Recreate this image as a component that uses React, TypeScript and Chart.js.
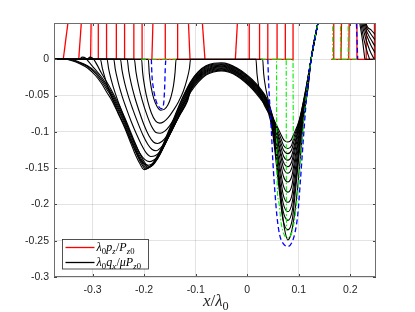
import { useEffect, useRef } from 'react';
import { Chart, registerables } from 'chart.js';
Chart.register(...registerables);

type Pt = [number, number];

// ---------- axes ----------
const xRange: [number, number] = [-0.375, 0.25];
const yRange: [number, number] = [-0.3, 0.05];
const xTickValues = [-0.3, -0.2, -0.1, 0, 0.1, 0.2];
const xTickLabels = ['-0.3', '-0.2', '-0.1', '0', '0.1', '0.2'];
const yTickValues = [-0.3, -0.25, -0.2, -0.15, -0.1, -0.05, 0];
const yTickLabels = ['-0.3', '-0.25', '-0.2', '-0.15', '-0.1', '-0.05', '0'];

// ---------- black: lambda0 qx / mu Pz0 ----------
const qx0: Pt[] = [
  [-0.375, 0], [-0.355, 0], [-0.34, -0.002], [-0.325, -0.006], [-0.31, -0.012], [-0.295, -0.022], [-0.283, -0.033], [-0.272, -0.046], [-0.264, -0.055], [-0.251, -0.074], [-0.238, -0.094], [-0.228, -0.112], [-0.219, -0.128], [-0.209, -0.143], [-0.2, -0.152],
  [-0.19, -0.149], [-0.18, -0.14], [-0.167, -0.123], [-0.155, -0.103], [-0.14, -0.077], [-0.125, -0.052],
  [-0.11, -0.031], [-0.095, -0.017], [-0.08, -0.009], [-0.065, -0.0055], [-0.05, -0.005], [-0.035, -0.007], [-0.02, -0.012], [-0.005, -0.019], [0.01, -0.028], [0.025, -0.04], [0.038, -0.054],
  [0.051, -0.084], [0.065, -0.114], [0.0706, -0.1254], [0.079, -0.13], [0.0859, -0.1254], [0.0905, -0.114], [0.102, -0.084], [0.1147, -0.04], [0.124, 0], [0.14, 0.06],
];
const qx12: Pt[] = [
  [-0.375, 0], [-0.35, 0], [-0.34, -0.001], [-0.325, -0.005], [-0.31, -0.01], [-0.295, -0.019], [-0.283, -0.03], [-0.272, -0.042], [-0.264, -0.051], [-0.251, -0.069], [-0.238, -0.089], [-0.228, -0.107], [-0.219, -0.123], [-0.209, -0.139], [-0.2, -0.1495], [-0.197, -0.151],
  [-0.188, -0.148], [-0.178, -0.139], [-0.166, -0.123], [-0.154, -0.103], [-0.139, -0.077], [-0.124, -0.052],
  [-0.11, -0.032], [-0.095, -0.018], [-0.08, -0.01], [-0.065, -0.0067], [-0.05, -0.0061], [-0.035, -0.0081], [-0.02, -0.0131], [-0.005, -0.0202], [0.01, -0.0293], [0.025, -0.0414], [0.038, -0.0554],
  [0.051, -0.084], [0.065, -0.12], [0.0706, -0.1335], [0.079, -0.139], [0.086, -0.1335], [0.091, -0.12], [0.1025, -0.084], [0.115, -0.04], [0.124, 0], [0.14, 0.06],
];
const qx1: Pt[] = [
  [-0.375, 0], [-0.345, 0], [-0.325, -0.004], [-0.31, -0.009], [-0.295, -0.017], [-0.283, -0.027], [-0.272, -0.039], [-0.264, -0.048], [-0.251, -0.066], [-0.238, -0.086], [-0.228, -0.104], [-0.219, -0.12], [-0.209, -0.136], [-0.2, -0.147], [-0.194, -0.15],
  [-0.186, -0.147], [-0.176, -0.138], [-0.165, -0.123], [-0.153, -0.104], [-0.138, -0.078], [-0.123, -0.053],
  [-0.11, -0.0335], [-0.095, -0.0195], [-0.08, -0.0113], [-0.065, -0.0079], [-0.05, -0.0072], [-0.035, -0.0092], [-0.02, -0.0142], [-0.005, -0.0214], [0.01, -0.0306], [0.025, -0.0428], [0.038, -0.0568],
  [0.05, -0.084], [0.0645, -0.126], [0.0703, -0.1416], [0.079, -0.148], [0.0862, -0.1416], [0.091, -0.126], [0.103, -0.084], [0.1153, -0.04], [0.124, 0], [0.14, 0.06],
];
const qx2: Pt[] = [
  [-0.375, 0], [-0.326, 0], [-0.32, 0.003], [-0.314, 0.002], [-0.307, -0.004], [-0.295, -0.014], [-0.283, -0.024], [-0.272, -0.036], [-0.264, -0.045], [-0.251, -0.063], [-0.238, -0.083], [-0.228, -0.1], [-0.219, -0.117], [-0.209, -0.133], [-0.2, -0.144], [-0.192, -0.149],
  [-0.184, -0.146], [-0.175, -0.137], [-0.164, -0.122], [-0.152, -0.103], [-0.137, -0.078], [-0.122, -0.054],
  [-0.11, -0.035], [-0.095, -0.021], [-0.08, -0.0126], [-0.065, -0.0091], [-0.05, -0.0083], [-0.035, -0.0103], [-0.02, -0.0153], [-0.005, -0.0226], [0.01, -0.0319], [0.025, -0.0442], [0.038, -0.0582],
  [0.05, -0.084], [0.0645, -0.131], [0.0703, -0.1497], [0.079, -0.157], [0.0865, -0.1497], [0.0915, -0.131], [0.104, -0.084], [0.1157, -0.04], [0.124, 0], [0.14, 0.06],
];
const qx3: Pt[] = [
  [-0.375, 0], [-0.311, 0], [-0.305, 0.003], [-0.299, 0.001], [-0.292, -0.007], [-0.283, -0.019], [-0.272, -0.032], [-0.264, -0.042], [-0.251, -0.06], [-0.238, -0.08], [-0.228, -0.097], [-0.219, -0.113], [-0.209, -0.129], [-0.2, -0.141], [-0.19, -0.148],
  [-0.182, -0.145], [-0.174, -0.137], [-0.163, -0.122], [-0.151, -0.103], [-0.136, -0.078], [-0.121, -0.055],
  [-0.11, -0.0365], [-0.095, -0.0225], [-0.08, -0.0139], [-0.065, -0.0103], [-0.05, -0.0094], [-0.035, -0.0114], [-0.02, -0.0164], [-0.005, -0.0238], [0.01, -0.0332], [0.025, -0.0456], [0.038, -0.0596],
  [0.049, -0.084], [0.064, -0.139], [0.07, -0.1605], [0.079, -0.169], [0.0868, -0.1605], [0.092, -0.139], [0.105, -0.084], [0.116, -0.04], [0.124, 0], [0.14, 0.06],
];
const qx4: Pt[] = [
  [-0.375, 0], [-0.285, 0], [-0.281, -0.013], [-0.275, -0.028], [-0.267, -0.045], [-0.258, -0.061], [-0.248, -0.077], [-0.238, -0.092], [-0.228, -0.109], [-0.218, -0.125], [-0.208, -0.138], [-0.2, -0.144], [-0.192, -0.146],
  [-0.184, -0.144], [-0.174, -0.137], [-0.162, -0.121], [-0.15, -0.103], [-0.135, -0.079], [-0.12, -0.056],
  [-0.11, -0.038], [-0.095, -0.024], [-0.08, -0.0152], [-0.065, -0.0115], [-0.05, -0.0105], [-0.035, -0.0125], [-0.02, -0.0175], [-0.005, -0.025], [0.01, -0.0345], [0.025, -0.047], [0.038, -0.061],
  [0.048, -0.084], [0.0635, -0.148], [0.0697, -0.173], [0.079, -0.183], [0.087, -0.173], [0.092, -0.148], [0.1055, -0.084], [0.1163, -0.04], [0.124, 0], [0.14, 0.06],
];
const qx5: Pt[] = [
  [-0.375, 0], [-0.272, 0], [-0.269, -0.013], [-0.264, -0.028], [-0.257, -0.045], [-0.248, -0.063], [-0.238, -0.082], [-0.228, -0.1], [-0.218, -0.116], [-0.208, -0.13], [-0.199, -0.138], [-0.19, -0.141],
  [-0.182, -0.139], [-0.172, -0.133], [-0.161, -0.119], [-0.149, -0.102], [-0.134, -0.079], [-0.119, -0.057],
  [-0.11, -0.0395], [-0.095, -0.0255], [-0.08, -0.0165], [-0.065, -0.0127], [-0.05, -0.0116], [-0.035, -0.0136], [-0.02, -0.0186], [-0.005, -0.0262], [0.01, -0.0358], [0.025, -0.0484], [0.038, -0.0624],
  [0.048, -0.084], [0.0635, -0.157], [0.0697, -0.186], [0.079, -0.197], [0.0871, -0.186], [0.0925, -0.157], [0.106, -0.084], [0.1167, -0.04], [0.124, 0], [0.14, 0.06],
];
const qx6: Pt[] = [
  [-0.375, 0], [-0.259, 0], [-0.256, -0.014], [-0.251, -0.03], [-0.244, -0.048], [-0.235, -0.067], [-0.225, -0.086], [-0.215, -0.103], [-0.205, -0.118], [-0.196, -0.129], [-0.187, -0.134],
  [-0.179, -0.133], [-0.17, -0.128], [-0.16, -0.117], [-0.148, -0.101], [-0.133, -0.079], [-0.118, -0.058],
  [-0.11, -0.041], [-0.095, -0.027], [-0.08, -0.0178], [-0.065, -0.0139], [-0.05, -0.0127], [-0.035, -0.0147], [-0.02, -0.0197], [-0.005, -0.0274], [0.01, -0.0371], [0.025, -0.0498], [0.038, -0.0638],
  [0.047, -0.084], [0.063, -0.166], [0.0694, -0.197], [0.079, -0.21], [0.0874, -0.197], [0.093, -0.166], [0.107, -0.084], [0.117, -0.04], [0.124, 0], [0.14, 0.06],
];
const qx7: Pt[] = [
  [-0.375, 0], [-0.246, 0], [-0.243, -0.015], [-0.238, -0.032], [-0.231, -0.05], [-0.222, -0.069], [-0.212, -0.088], [-0.202, -0.105], [-0.193, -0.117], [-0.185, -0.124], [-0.177, -0.126],
  [-0.168, -0.122], [-0.158, -0.113], [-0.147, -0.099], [-0.132, -0.078], [-0.117, -0.058],
  [-0.11, -0.0425], [-0.095, -0.0285], [-0.08, -0.0191], [-0.065, -0.0151], [-0.05, -0.0138], [-0.035, -0.0158], [-0.02, -0.0208], [-0.005, -0.0286], [0.01, -0.0384], [0.025, -0.0512], [0.038, -0.0652],
  [0.0465, -0.084], [0.0628, -0.174], [0.0693, -0.208], [0.079, -0.222], [0.0876, -0.208], [0.0933, -0.174], [0.1075, -0.084], [0.1173, -0.04], [0.124, 0], [0.14, 0.06],
];
const qx8: Pt[] = [
  [-0.375, 0], [-0.233, 0], [-0.23, -0.016], [-0.225, -0.034], [-0.218, -0.053], [-0.209, -0.073], [-0.2, -0.091], [-0.191, -0.105], [-0.182, -0.114], [-0.174, -0.116],
  [-0.165, -0.113], [-0.156, -0.106], [-0.145, -0.095], [-0.131, -0.077], [-0.116, -0.058],
  [-0.11, -0.044], [-0.095, -0.03], [-0.08, -0.0204], [-0.065, -0.0163], [-0.05, -0.0149], [-0.035, -0.0169], [-0.02, -0.0219], [-0.005, -0.0298], [0.01, -0.0397], [0.025, -0.0526], [0.038, -0.0666],
  [0.046, -0.084], [0.0625, -0.182], [0.0691, -0.22], [0.079, -0.235], [0.0877, -0.22], [0.0935, -0.182], [0.108, -0.084], [0.1177, -0.04], [0.124, 0], [0.14, 0.06],
];
const qx9: Pt[] = [
  [-0.375, 0], [-0.219, 0], [-0.216, -0.017], [-0.211, -0.036], [-0.204, -0.056], [-0.195, -0.076], [-0.186, -0.092], [-0.177, -0.101], [-0.169, -0.102],
  [-0.16, -0.099], [-0.151, -0.092], [-0.14, -0.08], [-0.128, -0.066], [-0.115, -0.052],
  [-0.11, -0.0455], [-0.095, -0.0315], [-0.08, -0.0217], [-0.065, -0.0175], [-0.05, -0.016], [-0.035, -0.018], [-0.02, -0.023], [-0.005, -0.031], [0.01, -0.041], [0.025, -0.054], [0.038, -0.068],
  [0.045, -0.084], [0.05, -0.102], [0.056, -0.13], [0.062, -0.168], [0.067, -0.204], [0.072, -0.232], [0.079, -0.249], [0.086, -0.238], [0.092, -0.213], [0.098, -0.176], [0.104, -0.128], [0.109, -0.084], [0.118, -0.04], [0.124, 0], [0.14, 0.06],
];
const qx10: Pt[] = [
  [-0.375, 0], [-0.205, 0], [-0.203, -0.018], [-0.199, -0.038], [-0.193, -0.058], [-0.186, -0.074], [-0.178, -0.085], [-0.17, -0.088], [-0.162, -0.086], [-0.153, -0.08], [-0.143, -0.07], [-0.133, -0.058], [-0.124, -0.044], [-0.117, -0.028], [-0.112, -0.012], [-0.11, 0],
  [0.03, 0], [0.032, -0.02], [0.036, -0.04], [0.043, -0.062], [0.052, -0.084], [0.0655, -0.109], [0.0709, -0.1191], [0.079, -0.123], [0.0858, -0.1191], [0.09, -0.109], [0.1015, -0.084], [0.1143, -0.04], [0.124, 0], [0.14, 0.06],
];
const qx11: Pt[] = [
  [-0.375, 0], [-0.192, 0], [-0.19, -0.02], [-0.186, -0.04], [-0.181, -0.055], [-0.175, -0.065], [-0.168, -0.07], [-0.161, -0.069], [-0.154, -0.063], [-0.148, -0.052], [-0.143, -0.036], [-0.14, -0.018], [-0.138, 0],
  [0.017, 0], [0.019, -0.02], [0.023, -0.04], [0.03, -0.058], [0.04, -0.072], [0.052, -0.084], [0.0655, -0.1035], [0.0709, -0.111], [0.079, -0.114], [0.0856, -0.111], [0.09, -0.1035], [0.101, -0.084], [0.114, -0.04], [0.124, 0], [0.14, 0.06],
];
const qxTail0: Pt[] = [[0.2175, 0.055], [0.2185, 0.05], [0.224, 0.025], [0.227, 0.008], [0.2285, 0], [0.25, 0]];
const qxTail1: Pt[] = [[0.2195, 0.055], [0.2205, 0.05], [0.227, 0.026], [0.233, 0.01], [0.2375, 0]];
const qxTail2: Pt[] = [[0.2215, 0.055], [0.2225, 0.05], [0.23, 0.029], [0.238, 0.012], [0.2465, 0]];
const qxTail3: Pt[] = [[0.2235, 0.055], [0.2245, 0.05], [0.233, 0.031], [0.241, 0.018], [0.25, 0.007]];
const qxTail4: Pt[] = [[0.2255, 0.055], [0.2265, 0.05], [0.235, 0.034], [0.243, 0.024], [0.25, 0.016]];
const qxTail5: Pt[] = [[0.2275, 0.055], [0.2285, 0.05], [0.238, 0.037], [0.25, 0.025]];
const qxTail6: Pt[] = [[0.2295, 0.055], [0.2305, 0.05], [0.241, 0.04], [0.25, 0.033]];
const qxCurves = [qx0, qx12, qx1, qx2, qx3, qx4, qx5, qx6, qx7, qx8, qx9, qx10, qx11, qxTail0, qxTail1, qxTail2, qxTail3, qxTail4, qxTail5, qxTail6];

// ---------- red: lambda0 pz / Pz0 (steep contact edges, baseline) ----------
const pzEdgeBottomX = [-0.357, -0.327, -0.304, -0.289, -0.273, -0.254, -0.238, -0.22, -0.204, -0.185, -0.159, -0.135, -0.111, -0.082, -0.023, 0.004, 0.024, 0.04, 0.058, 0.074, 0.089, 0.167, 0.182, 0.197, 0.212, 0.231, 0.247];
const pzEdgeTopX = [-0.348, -0.322, -0.303, -0.289, -0.273, -0.254, -0.238, -0.22, -0.204, -0.183, -0.159, -0.135, -0.114, -0.087, -0.019, 0.004, 0.024, 0.04, 0.058, 0.074, 0.089, 0.168, 0.183, 0.198, 0.213, 0.231, 0.247];
const pzBaseline1: Pt[] = [[-0.375, 0], [0.09, 0]];
const pzBaseline2: Pt[] = [[0.163, 0], [0.25, 0]];

// ---------- blue dashed ----------
const blue1: Pt[] = [[-0.186, 0], [-0.185, -0.02], [-0.182, -0.04], [-0.177, -0.057], [-0.171, -0.066], [-0.166, -0.068], [-0.162, -0.06], [-0.16, -0.035], [-0.159, -0.012], [-0.158, 0]];
const blue2: Pt[] = [[0.04, 0], [0.0415, -0.03], [0.044, -0.065], [0.047, -0.1], [0.05, -0.143], [0.054, -0.185], [0.058, -0.218], [0.063, -0.242], [0.07, -0.254], [0.079, -0.258], [0.087, -0.252], [0.093, -0.238], [0.098, -0.215], [0.103, -0.17], [0.109, -0.11], [0.115, -0.055], [0.124, 0], [0.14, 0.06]];
const blue3: Pt[] = [[0.2115, 0.06], [0.2145, 0]];

// ---------- green dash-dot ----------
const green1: Pt[] = [[-0.206, 0], [-0.138, 0]];
const green2: Pt[] = [[0.027, 0], [0.057, 0], [0.0572, -0.08], [0.0575, -0.15], [0.061, -0.195], [0.066, -0.226], [0.072, -0.242], [0.08, -0.246], [0.087, -0.238], [0.093, -0.216], [0.099, -0.178], [0.105, -0.128], [0.111, -0.077], [0.117, -0.036], [0.124, 0], [0.14, 0.06]];
const green3: Pt[] = [[0.057, 0], [0.0757, 0], [0.0759, -0.12], [0.0762, -0.236]];
const green4: Pt[] = [[0.0757, 0], [0.089, 0], [0.0892, -0.06], [0.0895, -0.11]];
const green5: Pt[] = [[0.166, 0.06], [0.166, 0], [0.215, 0]];
const green6: Pt[] = [[0.181, 0.06], [0.181, 0]];
const green7: Pt[] = [[0.196, 0.06], [0.196, 0]];
const greenCurves = [green1, green2, green3, green4, green5, green6, green7];
const smoothGreen = [false, true, false, false, false, false, false];

const legendTexts = ['λ0pz/Pz0', 'λ0qx/μPz0'];
const xTitle = 'x/λ0';

type Run = { t: string; it?: boolean; sub?: boolean };
const legendRuns: Run[][] = [
  [{ t: 'λ', it: true }, { t: '0', sub: true }, { t: 'p', it: true }, { t: 'z', it: true, sub: true }, { t: '/' }, { t: 'P', it: true }, { t: 'z', it: true, sub: true }, { t: '0', sub: true }],
  [{ t: 'λ', it: true }, { t: '0', sub: true }, { t: 'q', it: true }, { t: 'x', it: true, sub: true }, { t: '/' }, { t: 'μ', it: true }, { t: 'P', it: true }, { t: 'z', it: true, sub: true }, { t: '0', sub: true }],
];
const xTitleRuns: Run[] = [{ t: 'x', it: true }, { t: '/' }, { t: 'λ', it: true }, { t: '0', sub: true }];
const legendColors = ['#ff0000', '#000000'];

const SERIF = '"Liberation Serif", "DejaVu Serif", serif';

function runsWidth(ctx: CanvasRenderingContext2D, runs: Run[], size: number) {
  let w = 0;
  for (const r of runs) {
    const fs = r.sub ? size * 0.72 : size;
    ctx.font = `${r.it ? 'italic ' : ''}${fs}px ${SERIF}`;
    w += ctx.measureText(r.t).width + (r.sub ? 0.3 : 0);
  }
  return w;
}
function drawRuns(ctx: CanvasRenderingContext2D, x: number, y: number, runs: Run[], size: number) {
  for (const r of runs) {
    const fs = r.sub ? size * 0.72 : size;
    ctx.font = `${r.it ? 'italic ' : ''}${fs}px ${SERIF}`;
    ctx.fillText(r.t, x, y + (r.sub ? size * 0.22 : 0));
    x += ctx.measureText(r.t).width + (r.sub ? 0.3 : 0);
  }
}

const decorPlugin = {
  id: 'decor',
  afterDatasetsDraw(chart: any) {
    const { ctx, chartArea: a, scales } = chart;
    ctx.save();
    // inward ticks
    ctx.strokeStyle = '#444';
    ctx.lineWidth = 1;
    ctx.beginPath();
    for (const v of xTickValues) {
      const px = Math.round(scales.x.getPixelForValue(v)) + 0.5;
      ctx.moveTo(px, a.bottom); ctx.lineTo(px, a.bottom - 3);
      ctx.moveTo(px, a.top); ctx.lineTo(px, a.top + 3);
    }
    for (const v of yTickValues) {
      const py = Math.round(scales.y.getPixelForValue(v)) + 0.5;
      ctx.moveTo(a.left, py); ctx.lineTo(a.left + 3, py);
      ctx.moveTo(a.right, py); ctx.lineTo(a.right - 3, py);
    }
    ctx.stroke();
    // box
    ctx.strokeStyle = '#6e6e6e';
    ctx.strokeRect(a.left + 0.5, a.top + 0.5, a.right - a.left - 1, a.bottom - a.top - 1);
    // legend
    const lx = a.left + 8.5, ly = a.bottom - 37.5, lw = 86, lh = 29.5;
    ctx.fillStyle = '#fff';
    ctx.fillRect(lx, ly, lw, lh);
    ctx.strokeStyle = '#262626';
    ctx.lineWidth = 0.8;
    ctx.strokeRect(lx, ly, lw, lh);
    legendRuns.forEach((runs, i) => {
      const yy = ly + 8 + i * 15;
      ctx.strokeStyle = legendColors[i];
      ctx.lineWidth = 1.3;
      ctx.beginPath();
      ctx.moveTo(lx + 3, yy); ctx.lineTo(lx + 32, yy);
      ctx.stroke();
      ctx.fillStyle = '#000';
      ctx.textBaseline = 'alphabetic';
      drawRuns(ctx, lx + 34, yy + 3.8, runs, 12);
    });
    // x title
    ctx.fillStyle = '#262626';
    const tw = runsWidth(ctx, xTitleRuns, 17);
    drawRuns(ctx, (a.left + a.right) / 2 - tw / 2 + 1, 306, xTitleRuns, 17);
    ctx.restore();
  },
};

const toXY = (pts: Pt[]) => pts.map(([x, y]) => ({ x, y }));

export default function App() {
  const ref = useRef<HTMLCanvasElement>(null);
  useEffect(() => {
    if (!ref.current) return;
    const datasets: any[] = [];
    // red
    pzEdgeBottomX.forEach((xb, i) => {
      datasets.push({ label: 'pz', data: toXY([[xb, 0], [pzEdgeTopX[i], 0.05]]), borderColor: '#ff0000', borderWidth: 1.3, order: 5, clip: 0 });
    });
    [pzBaseline1, pzBaseline2].forEach((b) => datasets.push({ label: 'pz', data: toXY(b), borderColor: '#ff0000', borderWidth: 1.2, order: 5, clip: 0 }));
    // black
    qxCurves.forEach((c) => datasets.push({ label: 'qx', data: toXY(c), borderColor: '#000000', borderWidth: 1.1, cubicInterpolationMode: 'monotone', order: 4, clip: 0 }));
    // green
    greenCurves.forEach((g, i) => datasets.push({ label: 'g', data: toXY(g), borderColor: '#00ee00', borderWidth: 1.1, borderDash: [5, 2, 1.5, 2], cubicInterpolationMode: smoothGreen[i] ? 'monotone' : 'default', order: 2, clip: 0 }));
    // blue
    [blue1, blue2, blue3].forEach((b) => datasets.push({ label: 'b', data: toXY(b), borderColor: '#0000ff', borderWidth: 1.3, borderDash: [5, 3], cubicInterpolationMode: 'monotone', order: 1, clip: 0 }));

    const tickFont = { family: '"Liberation Sans", Arial, sans-serif', size: 10.5 };
    const chart = new Chart(ref.current, {
      type: 'line',
      data: { datasets },
      options: {
        animation: false,
        responsive: false,
        devicePixelRatio: 1,
        layout: { padding: { left: 0, right: 39, top: 23, bottom: 0 } },
        elements: { point: { radius: 0, hoverRadius: 0 }, line: { tension: 0, capBezierPoints: false } },
        plugins: { legend: { display: false }, tooltip: { enabled: false } },
        events: [],
        scales: {
          x: {
            type: 'linear', min: xRange[0], max: xRange[1],
            afterBuildTicks: (s: any) => { s.ticks = xTickValues.map((v) => ({ value: v })); },
            afterFit: (s: any) => { s.height = 35; },
            ticks: { callback: (v: any) => xTickLabels[xTickValues.indexOf(v)] ?? '', font: tickFont, color: '#262626', padding: 7, maxRotation: 0, autoSkip: false },
            grid: { color: 'rgba(0,0,0,0.11)', drawTicks: false, lineWidth: 1 },
            border: { display: false },
          },
          y: {
            type: 'linear', min: yRange[0], max: yRange[1],
            afterBuildTicks: (s: any) => { s.ticks = yTickValues.map((v) => ({ value: v })); },
            afterFit: (s: any) => { s.width = 54; },
            ticks: { callback: (v: any) => yTickLabels[yTickValues.indexOf(v)] ?? '', font: tickFont, color: '#262626', padding: 5, autoSkip: false },
            grid: { color: 'rgba(0,0,0,0.11)', drawTicks: false, lineWidth: 1 },
            border: { display: false },
          },
        },
      } as any,
      plugins: [decorPlugin],
    });
    return () => chart.destroy();
  }, []);
  return (
    <div style={{ position: 'fixed', left: 0, top: 0, width: 415, height: 312, background: '#fff' }}>
      <canvas ref={ref} width={415} height={312} style={{ display: 'block', width: 415, height: 312 }} aria-label={`${legendTexts.join(', ')}; ${xTitle}`} />
    </div>
  );
}
